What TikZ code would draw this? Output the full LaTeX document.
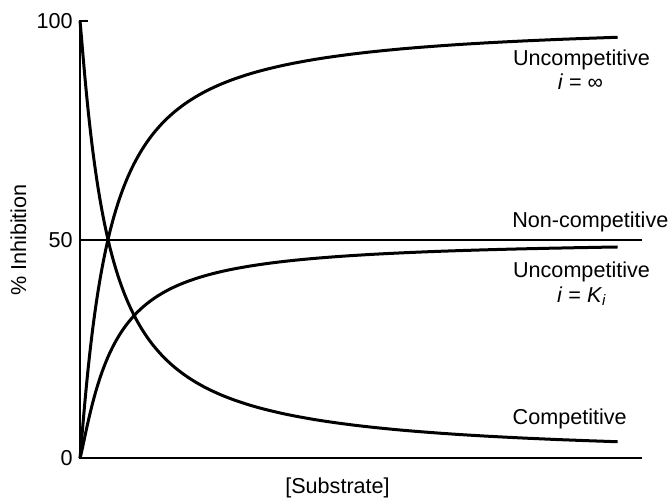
\documentclass[tikz,border=0pt]{standalone}
\usepackage{fontspec}
\setmainfont{Liberation Sans}
\begin{document}
\begin{tikzpicture}[x=0.5pt,y=-0.5pt,
  lab/.style={font=\fontsize{10.8pt}{13pt}\selectfont, inner sep=0pt, anchor=base},
  ticklab/.style={font=\fontsize{10.8pt}{13pt}\selectfont, inner sep=0pt, anchor=base east},
  curve/.style={line width=1.5pt, line join=round},
  axis/.style={line width=0.7pt}]
\useasboundingbox (0,0) rectangle (672,497);
% axes
\coordinate (O) at (80,458);
\coordinate (T) at (80,21);
\coordinate (Tt) at (88,21);
\coordinate (Xe) at (642,458);
\coordinate (M) at (80,240);
\coordinate (Me) at (642,240);
\draw[axis] (Xe) -- (O) -- (T) -- (Tt);
\draw[axis] (M) -- (Me);
% tick labels
\node[ticklab] (t100) at (73,28.5) {100};
\node[ticklab] (t50) at (73,247.7) {50};
\node[ticklab] (t0) at (73,465.5) {0};
% curves
\draw[curve] (O) -- plot[smooth, domain=0.02:1, samples=120] ({80+539*\x*\x}, {458-437/(1+exp(1.1*(3.3322-ln(539*\x*\x))))});
\draw[curve] (T) -- plot[smooth, domain=0.02:1, samples=120] ({80+539*\x*\x}, {21+437/(1+exp(1.1*(3.3322-ln(539*\x*\x))))});
\draw[curve] (O) -- plot[smooth, domain=0.02:1, samples=120] ({80+539*\x*\x}, {458-218.5/(1+exp(1.18*(3.4595-ln(539*\x*\x))))});
% labels
\node[lab] (u1) at (581.5,65.7) {Uncompetitive};
\node[lab] (u1i) at (580.5,90) {\textit{i} = ∞};
\node[lab] (nc) at (590.3,227.3) {Non-competitive};
\node[lab] (u2) at (581.5,277.3) {Uncompetitive};
\node[lab] (u2i) at (582,302) {\textit{i} = \textit{K}\textsubscript{\textit{i}}};
\node[lab] (comp) at (569.7,424.3) {Competitive};
\node[lab] (xl) at (337.5,493) {[Substrate]};
\node[lab, rotate=90] (yl) at (26,240) {\% Inhibition};
\end{tikzpicture}
\end{document}
